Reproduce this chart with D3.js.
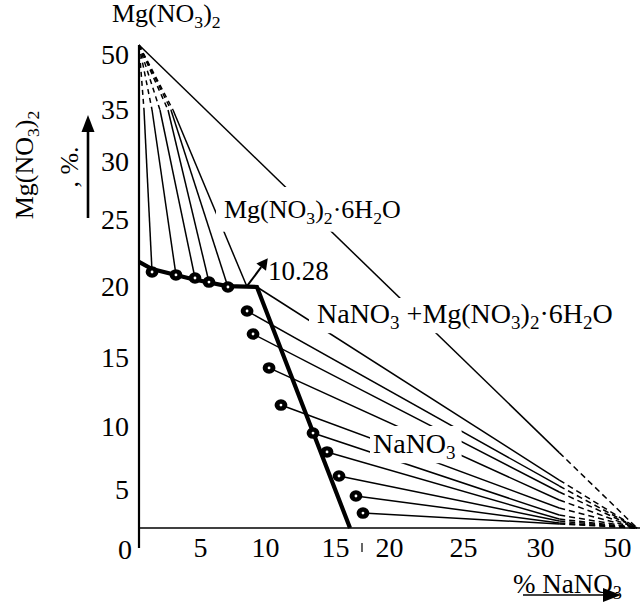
<!DOCTYPE html>
<html>
<head>
<meta charset="utf-8">
<script src="https://cdn.jsdelivr.net/npm/d3@7/dist/d3.min.js"></script>
<style>
body { margin: 0; background: #fff; }
svg { font-family: "Liberation Serif", "Times New Roman", serif; }
</style>
</head>
<body>
<svg id="chart" width="640" height="605"></svg>
<script>
// broken (schematic) axes: the value stops of each axis
var xStops = [0, 5, 10, 15, 20, 25, 30, 50, 100];
var yStops = [0, 5, 10, 15, 20, 25, 30, 35, 50, 57.9];
var xTicks = [5, 10, 15, 20, 25, 30, 50];
var yTicks = [5, 10, 15, 20, 25, 30, 35, 50];

// solid phases: Mg(NO3)2*6H2O and NaNO3
var saltMg = [0, 57.9];
var saltNa = [100, 0];
var eutonic = [8.6, 20.05];

// solubility curve (% NaNO3, % Mg(NO3)2)
var liquidus = [[0, 21.87], [1.07, 21.34], [4.34, 20.6], [7.08, 20.07], [9.38, 20.0], [16.39, 0]];
// liquid points, Mg(NO3)2*6H2O branch
var dotsMg = [[1.07, 21.12], [3.03, 20.9], [4.59, 20.67], [5.69, 20.37], [7.15, 20.0]];
// liquid points, NaNO3 branch
var dotsNa = [[8.62, 18.31], [9.08, 16.69], [10.29, 14.28], [11.14, 11.59], [13.43, 9.52],
              [14.43, 8.02], [15.37, 6.11], [16.94, 4.21], [17.59, 1.97]];
// tie lines turn dashed past the axis break (value 35)
var cutMg = [0.41, 1.07, 1.72, 2.38, 2.62, 2.79];               // x where y = 35
var cutNa = [5.79, 5.32, 4.74, 3.68, 2.63, 1.71, 1.18, 0.92, 0.66, 0.53]; // y where x = 35
var breakAt = 35;
var xBreakMark = 17.5;

var svg = d3.select("#chart");

var x = d3.scaleLinear().domain(xStops).range([139, 200, 265, 335, 389, 463, 540, 617, 637]);
var y = d3.scaleLinear().domain(yStops).range([528, 490, 427, 358, 287, 220, 162, 110, 55, 45]);

var line = d3.line().x(function(d) { return x(d[0]); }).y(function(d) { return y(d[1]); });

function seg(a, b, dashed, dash) {
  svg.append("path")
    .attr("d", line([a, b]))
    .attr("fill", "none")
    .attr("stroke", "#000")
    .attr("stroke-width", 1.5)
    .attr("stroke-dasharray", dashed ? dash : null);
}

// tie lines to Mg(NO3)2*6H2O
var endsMg = dotsMg.concat([eutonic]);
endsMg.forEach(function(d, i) {
  var c = [cutMg[i], breakAt];
  seg(c, d, false);
  seg(saltMg, c, true, "5,4");
});

// tie lines to NaNO3
var startsNa = [liquidus[4]].concat(dotsNa);
startsNa.forEach(function(d, i) {
  var c = [breakAt, cutNa[i]];
  seg(d, c, false);
  seg(c, saltNa, true, "6,4");
});

// line between the two solids
var px0 = x(saltMg[0]), py0 = y(saltMg[1]), px1 = x(saltNa[0]), py1 = y(saltNa[1]);
var t = (x(breakAt) - px0) / (px1 - px0);
svg.append("line").attr("x1", px0).attr("y1", py0)
  .attr("x2", px0 + t * (px1 - px0)).attr("y2", py0 + t * (py1 - py0))
  .attr("stroke", "#000").attr("stroke-width", 1.5);
svg.append("line").attr("x1", px0 + t * (px1 - px0)).attr("y1", py0 + t * (py1 - py0))
  .attr("x2", px1).attr("y2", py1)
  .attr("stroke", "#000").attr("stroke-width", 1.5).attr("stroke-dasharray", "6,4");

// axes
var yAxis = svg.append("g")
  .attr("transform", "translate(" + x(0) + ",0)")
  .call(d3.axisLeft(y).tickValues(yTicks).tickSize(0).tickPadding(10));
var xAxis = svg.append("g")
  .attr("transform", "translate(0," + y(0) + ")")
  .call(d3.axisBottom(x).tickValues(xTicks).tickSize(0).tickPadding(9));
[yAxis, xAxis].forEach(function(g) {
  g.select(".domain").remove();
  g.selectAll("text").attr("font-size", 28).attr("fill", "#000")
    .attr("font-family", "Liberation Serif, Times New Roman, serif");
});

svg.append("line").attr("x1", x(0)).attr("x2", x(0))
  .attr("y1", y(d3.max(yStops))).attr("y2", y(0) + 20)
  .attr("stroke", "#000").attr("stroke-width", 2.2);
svg.append("line").attr("x1", x(0)).attr("x2", 640)
  .attr("y1", y(0)).attr("y2", y(0))
  .attr("stroke", "#000").attr("stroke-width", 1.6);
svg.append("line").attr("x1", x(xBreakMark)).attr("x2", x(xBreakMark))
  .attr("y1", y(0) + 15).attr("y2", y(0) + 24)
  .attr("stroke", "#000").attr("stroke-width", 1.2);
svg.append("text").attr("x", x(0) - 14).attr("y", y(0) + 21)
  .attr("text-anchor", "middle").attr("dy", "0.35em").attr("font-size", 28).text("0");

// solubility curve
svg.append("path")
  .attr("d", line(liquidus))
  .attr("fill", "none")
  .attr("stroke", "#000")
  .attr("stroke-width", 4.2)
  .attr("stroke-linejoin", "miter");

// experimental points
var dots = dotsMg.concat(dotsNa);
svg.selectAll("ellipse.pt").data(dots).enter().append("ellipse")
  .attr("class", "pt")
  .attr("cx", function(d) { return x(d[0]); })
  .attr("cy", function(d) { return y(d[1]); })
  .attr("rx", 6.4).attr("ry", 5.8).attr("fill", "#000");
svg.selectAll("circle.ctr").data(dots).enter().append("circle")
  .attr("class", "ctr")
  .attr("cx", function(d) { return x(d[0]); })
  .attr("cy", function(d) { return y(d[1]); })
  .attr("r", 1.4).attr("fill", "#fff");

// chemical formula text with subscripts ("_3" = subscript 3)
function chem(g, str, size) {
  var parts = str.split(/(_\d)/).filter(function(p) { return p.length; });
  var shift = size * 0.22, low = false;
  parts.forEach(function(p) {
    if (p[0] === "_") {
      g.append("tspan").attr("font-size", size * 0.68).attr("dy", low ? 0 : shift).text(p[1]);
      low = true;
    } else {
      g.append("tspan").attr("dy", low ? -shift : 0).text(p);
      low = false;
    }
  });
  return g;
}

// label; a white box behind it cuts the lines that pass under it
function label(str, px, py, size, pad) {
  var g = svg.append("g");
  var bg = pad ? g.append("rect").attr("fill", "#fff") : null;
  var tx = g.append("text").attr("x", px).attr("y", py).attr("font-size", size);
  chem(tx, str, size);
  if (bg) {
    var b = tx.node().getBBox();
    bg.attr("x", b.x - pad[0]).attr("y", b.y - pad[1])
      .attr("width", b.width + pad[0] + pad[2]).attr("height", b.height + pad[1] + pad[3]);
  }
  return g;
}

label("Mg(NO_3)_2", 112, 22, 26, null);
label("Mg(NO_3)_2·6H_2O", 224, 218, 26, [8, 8, 4, 4]);
label("10.28", 268, 280, 27, null);
label("NaNO_3 +Mg(NO_3)_2·6H_2O", 317, 323, 28, [8, 0, 4, 0]);
label("NaNO_3", 373, 453, 28, [3, 2, 6, 0]);
label("% NaNO_3", 513, 593, 27, null);

var rl = svg.append("text").attr("transform", "translate(33,165) rotate(-90)")
  .attr("text-anchor", "middle").attr("font-size", 26);
chem(rl, "Mg(NO_3)_2", 26);
svg.append("text").attr("transform", "translate(78,167) rotate(-90)")
  .attr("text-anchor", "middle").attr("font-size", 26).text(", %.");

// arrows
function arrow(x1, y1, x2, y2, w, head, hw) {
  var a = Math.atan2(y2 - y1, x2 - x1);
  var bx = x2 - head * Math.cos(a), by = y2 - head * Math.sin(a);
  svg.append("line").attr("x1", x1).attr("y1", y1).attr("x2", bx).attr("y2", by)
    .attr("stroke", "#000").attr("stroke-width", w);
  var nx = -Math.sin(a) * hw, ny = Math.cos(a) * hw;
  svg.append("path")
    .attr("d", "M" + x2 + "," + y2 + "L" + (bx + nx) + "," + (by + ny) + "L" + (bx - nx) + "," + (by - ny) + "Z")
    .attr("fill", "#000");
}
arrow(x(eutonic[0]), y(eutonic[1]), x(eutonic[0]) + 21, y(eutonic[1]) - 28, 2, 11, 6);
arrow(88, 218, 88, 115, 2.6, 17, 6.5);
arrow(523, 595, 621, 595, 1.6, 18, 7);
</script>
</body>
</html>
